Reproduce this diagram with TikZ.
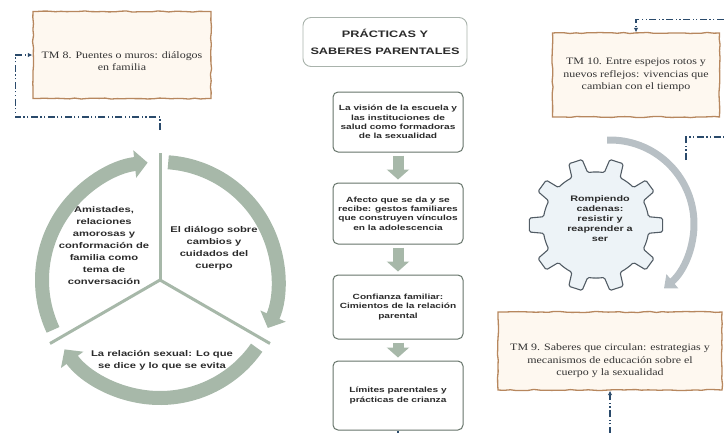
\documentclass[tikz,border=0pt]{standalone}
\usepackage{fontspec}
\setmainfont{Liberation Serif}[FakeStretch=1.22]
\setsansfont{Liberation Sans}[FakeStretch=1.35]
\usetikzlibrary{positioning, arrows.meta, calc, decorations.pathmorphing}

\definecolor{ciclo}{HTML}{A7B8A9}
\definecolor{bordecaja}{HTML}{66746A}
\definecolor{bordetitulo}{HTML}{A9B3AC}
\definecolor{tmborde}{HTML}{B7875E}
\definecolor{tmfondo}{HTML}{FEF8F0}
\definecolor{engrane}{HTML}{EDF3F7}
\definecolor{engranelinea}{HTML}{525C65}
\definecolor{arcogris}{HTML}{B8C0C5}
\definecolor{enlace}{HTML}{2A4A6B}
\definecolor{texto}{HTML}{2B2B2B}

\begin{document}
\begin{tikzpicture}[
		x=1pt, y=-1pt,
		node distance=30pt,
		% --- ESTILOS ---
		titulo/.style={
			rectangle, draw=bordetitulo, line width=0.9pt, rounded corners=8pt, fill=white,
			minimum width=164pt, minimum height=49pt, align=center, text=texto,
			font=\sffamily\bfseries\fontsize{9.4}{17}\selectfont
		},
		caja/.style={
			rectangle, draw=bordecaja, line width=1pt, rounded corners=5pt, fill=white,
			minimum width=130pt, align=center, text=texto,
			font=\sffamily\bfseries\fontsize{7.5}{9.4}\selectfont
		},
		tmbox/.style={
			rectangle, draw=tmborde, fill=tmfondo, line width=1.3pt, align=center,
			decorate, decoration={random steps, segment length=6pt, amplitude=0.6pt},
			text=black!80, font=\fontsize{9.8}{12.5}\selectfont
		},
		textociclo/.style={
			align=center, text=texto, font=\sffamily\bfseries\fontsize{8.3}{12}\selectfont
		},
		flecha/.style={
			draw=ciclo, line width=11pt, shorten >=3pt, shorten <=3pt,
			-{Triangle[length=10pt,width=22pt]}
		},
		anillo/.style={
			draw=ciclo, line width=14pt, -{Triangle[length=13pt,width=27pt]}
		},
		divisor/.style={
			draw=ciclo, line width=3pt
		},
		link/.style={
			draw=enlace, line width=1.2pt,
			dash pattern=on 7pt off 2.5pt on 1.2pt off 2.5pt on 1.2pt off 2.5pt,
			-{Latex[length=4.5pt,width=4.5pt]}
		}
		]
		
		\useasboundingbox (0,0) rectangle (725,432);
		\clip (0,0) rectangle (725,432);
		
		% ==========================================
		% 1. Titulo y columna central
		% ==========================================
		\node [titulo] (titulo) at (385,42) {PRÁCTICAS Y\\SABERES PARENTALES};
		
		\node [caja, minimum height=60pt] (b1) at (398,122) {La visión de la escuela y\\las instituciones de\\salud como formadoras\\de la sexualidad};
		\node [caja, minimum height=61pt, below=30pt of b1] (b2) {Afecto que se da y se\\recibe: gestos familiares\\que construyen vínculos\\en la adolescencia};
		\node [caja, minimum height=64pt, below=30pt of b2] (b3) {Confianza familiar:\\Cimientos de la relación\\parental};
		\node [caja, minimum height=69pt, below=21pt of b3] (b4) {Límites parentales y\\prácticas de crianza};
		
		\draw [flecha] (b1) -- (b2);
		\draw [flecha] (b2) -- (b3);
		\draw [flecha] (b3) -- (b4);
		
		% ==========================================
		% 2. Ciclo de la izquierda
		% ==========================================
		\coordinate (cyc) at (160,280);
		\draw [anillo] ($(cyc)+(-86:118)$) arc[start angle=-86, end angle=24, radius=118];
		\draw [anillo] ($(cyc)+(35:118)$) arc[start angle=35, end angle=144, radius=118];
		\draw [anillo] ($(cyc)+(155:118)$) arc[start angle=155, end angle=264, radius=118];
		\foreach \ang in {-90,30,150}
			\draw [divisor] (cyc) -- ++(\ang:127);
		
		\node [textociclo] (amistades) at (104,246) {Amistades,\\relaciones\\amorosas y\\conformación de\\familia como\\tema de\\conversación};
		\node [textociclo] (dialogo) at (214,248) {El diálogo sobre\\cambios y\\cuidados del\\cuerpo};
		\node [textociclo] (relacion) at (162,360) {La relación sexual: Lo que\\se dice y lo que se evita};
		
		% ==========================================
		% 3. Engrane de la derecha
		% ==========================================
		\draw [draw=arcogris, line width=7pt, -{Triangle[length=11pt,width=18pt]}]
		($(610,224)+(-92:84)$) arc[start angle=-92, end angle=50, radius=84];
		
		\begin{scope}[shift={(596,225)}]
			\draw [draw=engranelinea, fill=engrane, line width=1.1pt, rounded corners=1.5pt]
			(-9:53) \foreach \a in {0,36,...,324}{
				-- (\a-6:67) -- (\a+6:67) -- (\a+9:53) arc[start angle=\a+9, end angle=\a+27, radius=53]
			} -- cycle;
		\end{scope}
		\node [align=center, text=texto, font=\sffamily\bfseries\fontsize{8}{10}\selectfont] (gear) at (600,219)
		{Rompiendo\\cadenas:\\resistir y\\reaprender a\\ser};
		
		% ==========================================
		% 4. Cajas TM
		% ==========================================
		\node [tmbox, minimum width=178pt, minimum height=87pt] (tm8) at (122,55) {\rule{0pt}{19pt}TM 8. Puentes o muros: diálogos\\en familia};
		\node [tmbox, minimum width=167pt, minimum height=84pt] (tm10) at (636,75) {TM 10. Entre espejos rotos y\\nuevos reflejos: vivencias que\\cambian con el tiempo};
		\node [tmbox, minimum width=224pt, minimum height=78pt] (tm9) at (610,351) {\rule{0pt}{27pt}TM 9. Saberes que circulan: estrategias y\\mecanismos de educación sobre el\\cuerpo y la sexualidad};
		
		% ==========================================
		% 5. Enlaces punteados
		% ==========================================
		\coordinate (cyc_top) at (160,130);
		\coordinate (gear_link) at (686,160);
		
		\draw [link] (cyc_top) -- ++(0,-13) -| ($(tm8.west)+(-17,0)$) -- (tm8.west);
		\draw [link] (gear_link) -- ++(0,-23) -- ++(50,0) |- ($(tm10.north)+(0,-13)$) -- (tm10.north);
		\draw [link] (b4.south) -- ++(0,14) -| (tm9.south);
		
\end{tikzpicture}
\end{document}
